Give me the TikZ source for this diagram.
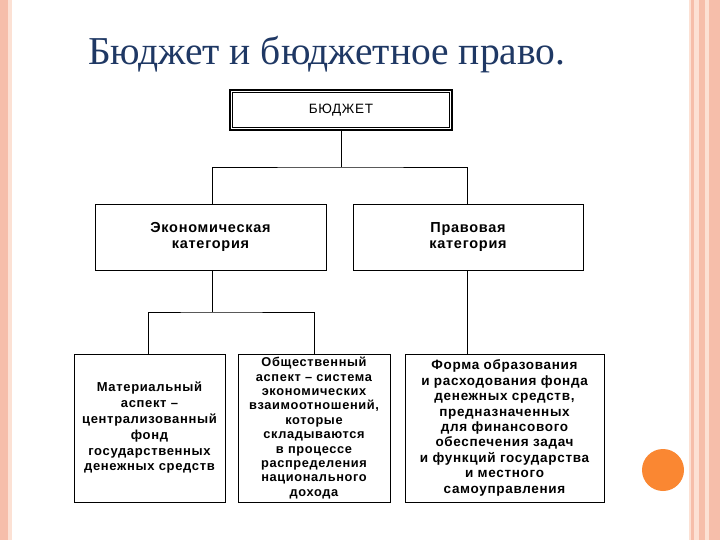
\documentclass[tikz,border=0pt]{standalone}
\usepackage{fontspec}
\setmainfont{Liberation Sans}
\newfontfamily\titlefont{Liberation Serif}
\newfontfamily\boxfont[LetterSpace=5]{Liberation Sans}
\definecolor{titleblue}{RGB}{31,56,100}
\definecolor{salmon}{RGB}{246,190,170}
\definecolor{salmonlt}{RGB}{252,225,212}
\definecolor{dotorange}{RGB}{250,135,50}
\begin{document}
\begin{tikzpicture}[x=1pt,y=-1pt,
  box/.style={draw,line width=0.9pt,align=center,inner sep=2pt,font=\boxfont\fontsize{14.5}{16.5}\selectfont\bfseries},
  link/.style={draw,line width=0.8pt}]
\useasboundingbox (0,0) rectangle (720,540);
\fill[white] (0,0) rectangle (720,540);
% frame
\fill[salmonlt] (0,0) rectangle (12,540);
\fill[salmon] (0,0) rectangle (8,540);
\fill[salmonlt] (689,0) rectangle (720,540);
\fill[salmon] (691,0) rectangle (694,540);
\fill[salmon] (699,0) rectangle (705,540);
\fill[salmon] (709,0) rectangle (720,540);
\fill[dotorange] (663,470) circle (21);
% title
\node[anchor=base west,inner sep=0,text=titleblue,font=\titlefont\fontsize{39.5}{44}\selectfont] (title) at (88,65) {Бюджет и бюджетное право.};
% boxes
\node[draw,line width=2.2pt,minimum width=222pt,minimum height=40pt,inner sep=0] (b) at (341,110) {};
\draw[line width=0.6pt] (232.5,92.5) rectangle (449.5,127.5);
\node[font=\boxfont\fontsize{13.5}{15}\selectfont] (bt) at (341,110) {БЮДЖЕТ};
\node[box,minimum width=231pt,minimum height=66pt] (e) at (210.5,237) {Экономическая\\категория};
\node[box,minimum width=230pt,minimum height=66pt] (p) at (468,237) {Правовая\\категория};
\node[box,minimum width=151pt,minimum height=148pt,font=\boxfont\fontsize{13}{15.8}\selectfont\bfseries] (m) at (149.5,428) {Материальный\\аспект –\\централизованный\\фонд\\государственных\\денежных средств};
\node[box,minimum width=152pt,minimum height=148pt,font=\boxfont\fontsize{12.8}{14.4}\selectfont\bfseries] (o) at (314,428) {Общественный\\аспект – система\\экономических\\взаимоотношений,\\которые\\складываются\\в процессе\\распределения\\национального\\дохода};
\node[box,minimum width=199pt,minimum height=148pt,font=\boxfont\fontsize{13.5}{15.4}\selectfont\bfseries] (f) at (504.5,428) {Форма образования\\и расходования фонда\\денежных средств,\\предназначенных\\для финансового\\обеспечения задач\\и функций государства\\и местного\\самоуправления};
% connectors
\coordinate (j1) at (341,167);
\coordinate (j2) at (212,312);
\draw[link] (b.south) -- (j1);
\draw[link] (e.north-|212,0) |- (j1) -| (p.north-|467,0);
\draw[link] (e.south-|212,0) -- (j2);
\draw[link] (m.north-|148,0) |- (j2) -| (o.north-|314,0);
\draw[link] (p.south-|467,0) -- (f.north-|467,0);
\end{tikzpicture}
\end{document}
